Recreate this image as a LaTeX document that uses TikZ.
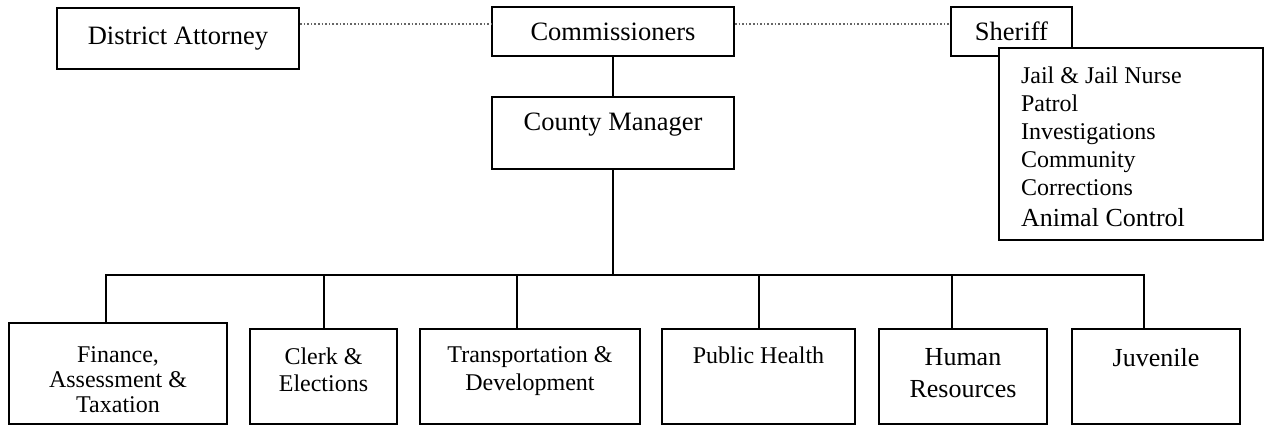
\documentclass[tikz,border=0pt]{standalone}
\usepackage{fontspec}
\setmainfont{Liberation Serif}
\usetikzlibrary{positioning}

\begin{document}
\begin{tikzpicture}[
        x=0.5pt,y=-0.5pt,line width=1pt,
        unit/.style={draw,fill=white,line width=1pt,inner sep=0pt},
        head/.style={unit,font=\fontsize{13.25}{16}\selectfont},
        txt/.style={inner sep=0pt,align=center,font=\fontsize{12}{12.5}\selectfont},
        link/.style={densely dotted,line width=0.8pt,black!60}]

    \useasboundingbox (0,0) rectangle (1264,425);

    % top row
    \node[head,minimum width=121pt,minimum height=30.5pt] (da) at (178,38.5) {District Attorney};
    \node[head,minimum width=121pt,minimum height=24.5pt] (comm) at (613,31.5) {Commissioners};
    \node[head,minimum width=60.5pt,minimum height=24.5pt] (sher) at (1011.5,31.5) {Sheriff};
    \node[unit,minimum width=132pt,minimum height=96pt] (jail) at (1131,144) {};
    \node[txt,align=left,anchor=north west,font=\fontsize{12}{14}\selectfont] (jailT) at (1020,66)
        {Jail \& Jail Nurse\\Patrol\\Investigations\\Community\\Corrections\\[1.5pt]{\fontsize{13}{14}\selectfont Animal Control}};

    \node[unit,minimum width=121pt,minimum height=36pt] (cm) at (613,133) {};
    \node[txt,font=\fontsize{13.25}{16}\selectfont,below=8pt of cm.north] (cmT) {County Manager};

    % departments
    \node[unit,minimum width=109pt,minimum height=50.5pt] (fin) at (118,373.5) {};
    \node[txt,below=12pt of fin.north] (finT) {Finance,\\Assessment \&\\Taxation};
    \node[unit,minimum width=73.5pt,minimum height=47.5pt] (clerk) at (323.5,376.5) {};
    \node[txt,font=\fontsize{12}{13.5}\selectfont,below=9.5pt of clerk.north] (clerkT) {Clerk \&\\Elections};
    \node[unit,minimum width=110pt,minimum height=47.5pt] (tra) at (530,376.5) {};
    \node[txt,font=\fontsize{12}{14}\selectfont,below=9pt of tra.north] (traT) {Transportation \&\\Development};
    \node[unit,minimum width=96.5pt,minimum height=47.5pt] (ph) at (758.5,376.5) {};
    \node[txt,below=9pt of ph.north] (phT) {Public Health};
    \node[unit,minimum width=84pt,minimum height=47.5pt] (hr) at (963,376.5) {};
    \node[txt,font=\fontsize{13}{16}\selectfont,below=9.5pt of hr.north] (hrT) {Human\\Resources};
    \node[unit,minimum width=84pt,minimum height=47.5pt] (juv) at (1156,376.5) {};
    \node[txt,font=\fontsize{13}{16}\selectfont,below=9.5pt of juv.north] (juvT) {Juvenile};

    % connectors
    \draw[link] ([yshift=7.25pt]da.east) -- ([yshift=3.75pt]comm.west);
    \draw[link] ([yshift=3.75pt]comm.east) -- ([yshift=3.75pt]sher.west);

    \coordinate (bus) at (613,275);
    \draw (comm.south) -- (cm.north);
    \draw (cm.south) -- (bus);
    \draw ([xshift=-6pt]fin.north) |- (bus) -| ([xshift=-6pt]juv.north);
    \draw (clerk.north) -- (clerk.north |- bus);
    \draw ([xshift=-6.5pt]tra.north) -- ([xshift=-6.5pt]tra.north |- bus);
    \draw (ph.north) -- (ph.north |- bus);
    \draw ([xshift=-5.5pt]hr.north) -- ([xshift=-5.5pt]hr.north |- bus);

\end{tikzpicture}
\end{document}
